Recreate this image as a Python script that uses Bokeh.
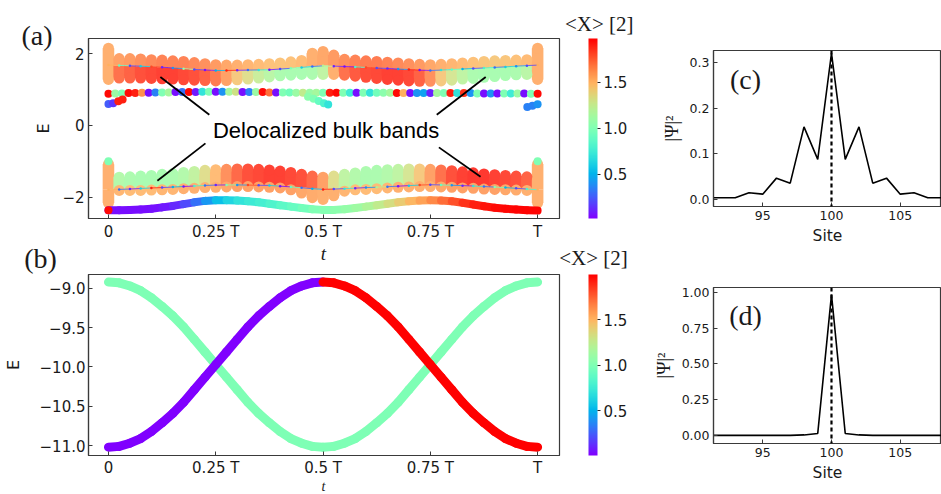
import numpy as np
from bokeh.plotting import figure
from bokeh.layouts import row, column
from bokeh.models import (ColumnDataSource, LinearColorMapper, ColorBar, FixedTicker,
                          Label, Span, Title)
from bokeh.transform import transform
from bokeh.embed import file_html
from bokeh.resources import INLINE

# ---------------------------------------------------------------- data ----
# panel (a): spectrum over one pump cycle, sampled every T/40
T_BAND = np.linspace(0.0, 1.0, 41)

UB_TOP = [2.15, 1.86, 1.86, 1.85, 1.83, 1.82, 1.80, 1.78, 1.75, 1.72,
          1.69, 1.68, 1.68, 1.69, 1.70, 1.72, 1.74, 1.77, 1.81, 2.01,
          2.06, 1.96, 1.84, 1.82, 1.80, 1.78, 1.76, 1.74, 1.72, 1.70,
          1.69, 1.70, 1.72, 1.74, 1.76, 1.78, 1.80, 1.81, 1.82, 1.83, 2.15]
UB_MID = [1.68, 1.67, 1.66, 1.65, 1.635, 1.62, 1.60, 1.58, 1.56, 1.545,
          1.53, 1.53, 1.535, 1.54, 1.545, 1.55, 1.57, 1.59, 1.615, 1.64,
          1.66, 1.65, 1.64, 1.63, 1.615, 1.60, 1.585, 1.57, 1.555, 1.54,
          1.53, 1.54, 1.555, 1.57, 1.585, 1.60, 1.615, 1.63, 1.65, 1.665, 1.68]
UB_BOT = [1.28, 1.32, 1.32, 1.32, 1.31, 1.30, 1.29, 1.27, 1.26, 1.25,
          1.24, 1.25, 1.27, 1.29, 1.32, 1.35, 1.38, 1.40, 1.42, 1.42,
          1.42, 1.42, 1.40, 1.37, 1.34, 1.31, 1.28, 1.26, 1.24, 1.23,
          1.23, 1.24, 1.26, 1.29, 1.31, 1.34, 1.36, 1.39, 1.41, 1.42, 1.28]
UB_X_HI = [1.55, 1.6, 1.62, 1.65, 1.68, 1.7, 1.7, 1.7, 1.68, 1.65,
           1.62, 1.58, 1.55, 1.52, 1.5, 1.48, 1.47, 1.48, 1.5, 1.55,
           1.58, 1.62, 1.66, 1.7, 1.72, 1.72, 1.7, 1.68, 1.65, 1.62,
           1.58, 1.55, 1.52, 1.5, 1.48, 1.46, 1.45, 1.46, 1.48, 1.5, 1.55]
UB_X_LO = [1.55, 1.75, 1.8, 1.85, 1.88, 1.9, 1.9, 1.88, 1.85, 1.8,
           1.72, 1.6, 1.45, 1.35, 1.25, 1.18, 1.12, 1.1, 1.1, 1.12,
           1.2, 1.55, 1.75, 1.82, 1.86, 1.88, 1.9, 1.9, 1.88, 1.8,
           1.65, 1.45, 1.3, 1.2, 1.12, 1.1, 1.1, 1.1, 1.12, 1.18, 1.55]
UB_X_LINE = [1.5, 0.9, 0.2, 0.6, 1.8, 0.1, 0.4, 1.1, 0.2, 0.05,
             0.5, 1.9, 0.1, 0.3, 0.7, 0.05, 0.2, 1.0, 0.6, 0.3,
             1.2, 0.1, 0.05, 0.8, 1.8, 0.2, 0.1, 0.4, 1.9, 0.05,
             0.3, 0.7, 0.9, 0.5, 0.2, 0.8, 0.3, 0.6, 0.4, 0.2, 1.5]

LB_TOP = [-1.08, -1.44, -1.43, -1.41, -1.39, -1.36, -1.34, -1.31, -1.28, -1.25,
          -1.23, -1.22, -1.21, -1.21, -1.22, -1.24, -1.27, -1.31, -1.36, -1.41,
          -1.44, -1.41, -1.36, -1.32, -1.28, -1.25, -1.23, -1.22, -1.21, -1.21,
          -1.22, -1.24, -1.26, -1.29, -1.32, -1.35, -1.37, -1.39, -1.41, -1.43, -1.08]
LB_MID = [-1.79, -1.78, -1.77, -1.755, -1.74, -1.73, -1.715, -1.70, -1.685, -1.67,
          -1.66, -1.655, -1.655, -1.66, -1.665, -1.67, -1.69, -1.71, -1.735, -1.76,
          -1.78, -1.77, -1.76, -1.745, -1.73, -1.72, -1.705, -1.69, -1.675, -1.66,
          -1.65, -1.655, -1.665, -1.675, -1.685, -1.70, -1.715, -1.73, -1.75, -1.77, -1.79]
LB_BOT = [-2.16, -1.81, -1.81, -1.81, -1.80, -1.79, -1.78, -1.76, -1.75, -1.73,
          -1.72, -1.71, -1.70, -1.70, -1.71, -1.72, -1.74, -1.79, -1.88, -2.01,
          -2.06, -1.96, -1.83, -1.79, -1.78, -1.76, -1.74, -1.72, -1.71, -1.70,
          -1.70, -1.71, -1.72, -1.74, -1.75, -1.77, -1.78, -1.79, -1.80, -1.81, -2.16]
LB_X_HI = [1.55, 1.15, 1.12, 1.1, 1.1, 1.1, 1.12, 1.15, 1.22, 1.35,
           1.5, 1.65, 1.78, 1.85, 1.88, 1.9, 1.9, 1.88, 1.85, 1.78,
           1.6, 1.35, 1.2, 1.15, 1.12, 1.12, 1.15, 1.2, 1.3, 1.45,
           1.6, 1.75, 1.85, 1.9, 1.92, 1.92, 1.9, 1.88, 1.85, 1.8, 1.55]
LB_X_LO = [1.55, 1.52, 1.5, 1.5, 1.5, 1.52, 1.52, 1.55, 1.55, 1.55,
           1.55, 1.58, 1.6, 1.6, 1.6, 1.6, 1.6, 1.6, 1.58, 1.56,
           1.55, 1.55, 1.52, 1.5, 1.5, 1.5, 1.52, 1.55, 1.55, 1.55,
           1.55, 1.58, 1.6, 1.6, 1.6, 1.6, 1.6, 1.58, 1.56, 1.55, 1.55]
LB_X_LINE = [1.5, 0.3, 0.1, 0.6, 1.9, 0.2, 0.5, 0.05, 0.8, 0.3,
             0.1, 1.0, 0.4, 1.8, 0.2, 0.6, 0.05, 0.9, 0.3, 0.5,
             1.9, 0.2, 0.7, 0.1, 0.4, 1.2, 0.3, 0.05, 0.6, 1.8,
             0.2, 0.9, 0.4, 0.1, 0.7, 0.3, 1.0, 0.5, 0.2, 0.8, 1.5]

# lowest state of the lower band
EDGE_E = [-2.36, -2.36, -2.35, -2.34, -2.32, -2.28, -2.24, -2.19, -2.14, -2.10,
          -2.08, -2.08, -2.09, -2.11, -2.14, -2.18, -2.22, -2.26, -2.30, -2.33,
          -2.35, -2.35, -2.33, -2.30, -2.26, -2.22, -2.18, -2.14, -2.11, -2.09,
          -2.08, -2.09, -2.11, -2.15, -2.20, -2.25, -2.29, -2.32, -2.34, -2.36, -2.37]
EDGE_X = [0.05, 0.05, 0.05, 0.05, 0.05, 0.06, 0.08, 0.12, 0.2, 0.3,
          0.42, 0.55, 0.63, 0.7, 0.74, 0.78, 0.82, 0.86, 0.9, 0.95,
          1.0, 1.02, 1.05, 1.08, 1.12, 1.18, 1.25, 1.32, 1.4, 1.48,
          1.55, 1.62, 1.7, 1.78, 1.85, 1.9, 1.93, 1.95, 1.96, 1.97, 1.97]

# row of in-gap states, sampled every T/64
T_GAP = np.linspace(0.0, 1.0, 65)
GAP_E = [0.88, 0.89, 0.89, 0.90, 0.90, 0.91, 0.91, 0.92, 0.92, 0.92,
         0.93, 0.93, 0.93, 0.93, 0.94, 0.94, 0.94, 0.94, 0.94, 0.94,
         0.93, 0.93, 0.93, 0.93, 0.92, 0.92, 0.92, 0.92, 0.91, 0.91,
         0.91, 0.91, 0.91, 0.91, 0.91, 0.91, 0.91, 0.91, 0.91, 0.91,
         0.91, 0.91, 0.91, 0.90, 0.90, 0.90, 0.90, 0.90, 0.90, 0.90,
         0.90, 0.90, 0.90, 0.90, 0.90, 0.89, 0.89, 0.89, 0.89, 0.89,
         0.89, 0.89, 0.89, 0.88, 0.88]
GAP_X = [1.95, 1.1, 1.0, 1.95, 1.9, 1.6, 0.05, 0.35, 1.0, 1.15,
         0.05, 0.3, 1.95, 0.08, 0.7, 1.0, 0.05, 0.4, 1.15, 1.3,
         0.05, 0.35, 1.1, 1.95, 1.7, 0.05, 1.0, 0.95, 1.1, 1.25,
         1.1, 1.15, 1.0, 1.9, 1.95, 1.0, 0.75, 0.05, 1.0, 0.7,
         0.95, 1.05, 1.15, 1.95, 1.5, 0.05, 0.4, 0.45, 0.1, 1.15,
         1.0, 1.9, 0.7, 1.85, 0.4, 1.0, 0.05, 0.4, 0.05, 1.0,
         0.75, 1.1, 0.05, 1.0, 1.95]

# isolated states near t = 0, T/2 and T
ISO_T = [0.0, 0.011, 0.023, 0.033, 0.465, 0.478, 0.49, 0.502, 0.512,
         0.976, 0.988, 1.0, 0.0, 0.0, 1.0]
ISO_E = [0.60, 0.62, 0.67, 0.72, 0.80, 0.74, 0.68, 0.62, 0.58,
         0.51, 0.55, 0.59, -2.36, -1.0, -1.0]
ISO_X = [0.25, 0.15, 1.9, 1.9, 1.05, 1.0, 0.9, 0.8, 0.7,
         0.35, 0.35, 0.4, 1.95, 1.0, 1.0]

# panel (b): the two states of the deep pair, sampled every T/40
T_PAIR = np.linspace(0.0, 1.0, 41)
PAIR1_E = [-8.92, -8.93, -8.97, -9.03, -9.12, -9.23, -9.35, -9.49, -9.65, -9.81,
           -9.97, -10.13, -10.29, -10.45, -10.59, -10.71, -10.82, -10.91, -10.97, -11.01,
           -11.02, -11.01, -10.97, -10.91, -10.82, -10.71, -10.59, -10.45, -10.29, -10.13,
           -9.97, -9.81, -9.65, -9.49, -9.35, -9.23, -9.12, -9.03, -8.97, -8.93, -8.92]
PAIR1_X = [1.0] * 41
PAIR2_E = [-11.02, -11.01, -10.97, -10.91, -10.82, -10.71, -10.59, -10.45, -10.29, -10.13,
           -9.97, -9.81, -9.65, -9.49, -9.35, -9.23, -9.12, -9.03, -8.97, -8.93,
           -8.92, -8.93, -8.97, -9.03, -9.12, -9.23, -9.35, -9.49, -9.65, -9.81,
           -9.97, -10.13, -10.29, -10.45, -10.59, -10.71, -10.82, -10.91, -10.97, -11.01, -11.02]
PAIR2_X = [0.01] * 20 + [2.0] * 21

# panels (c), (d): site-resolved probability
SITES = list(range(91, 110))
PROB_C = [0.004, 0.004, 0.004, 0.015, 0.012, 0.047, 0.036, 0.159, 0.088, 0.32,
          0.088, 0.159, 0.036, 0.047, 0.012, 0.015, 0.004, 0.004, 0.004]
PROB_D = [0.001, 0.001, 0.001, 0.001, 0.001, 0.001, 0.001, 0.004, 0.014, 0.985,
          0.014, 0.004, 0.001, 0.001, 0.001, 0.001, 0.001, 0.001, 0.001]

T_TICKS = [0, 0.25, 0.5, 0.75, 1.0]
T_LABELS = ["0", "0.25 T", "0.5 T", "0.75 T", "T"]
CB_TICKS = [0.5, 1.0, 1.5]
CB_LABELS = ["0.5", "1.0", "1.5"]

# ----------------------------------------------------------- styling ----
def rainbow(n=256, wash=0.0):
    cols = []
    for i in range(n):
        x = i / (n - 1)
        rgb = [min(1.0, abs(2 * x - 0.5)), max(0.0, np.sin(np.pi * x)),
               max(0.0, np.cos(np.pi * x / 2))]
        rgb = [c + (1.0 - c) * wash for c in rgb]
        cols.append("#%02x%02x%02x" % tuple(round(255 * c) for c in rgb))
    return cols


RAINBOW = rainbow()
cmap_a = LinearColorMapper(palette=RAINBOW, low=0.015, high=1.98)
cmap_band = LinearColorMapper(palette=rainbow(wash=0.15), low=0.015, high=1.98)
cmap_b = LinearColorMapper(palette=RAINBOW, low=0.01, high=2.0)

FRAME = "#3a3a3a"
INK = "#1a1a1a"
SANS = "DejaVu Sans"
SERIF = "Liberation Serif"
TAG_SIZE = "28px"


def make_fig(w, h, xr, yr, left, right, top, bottom):
    p = figure(width=w, height=h, x_range=xr, y_range=yr, output_backend="svg",
               toolbar_location=None, min_border_left=left, min_border_right=right,
               min_border_top=top, min_border_bottom=bottom)
    p.grid.visible = False
    p.outline_line_color = FRAME
    p.outline_line_width = 1.2
    p.background_fill_color = "white"
    p.border_fill_color = "white"
    return p


def text_strip(w, h):
    # axis-free strip that carries the captions between the stacked panels
    p = figure(width=w, height=h, x_range=(0, 1), y_range=(0, 1), output_backend="svg",
               toolbar_location=None, min_border_left=0, min_border_right=0,
               min_border_top=0, min_border_bottom=0, x_axis_location=None,
               y_axis_location=None)
    p.grid.visible = False
    p.outline_line_color = None
    p.border_fill_color = "white"
    p.background_fill_color = "white"
    return p


def style_axes(p, size, standoff=4):
    for ax in p.axis:
        ax.axis_line_color = FRAME
        ax.axis_line_width = 1.2
        ax.major_tick_in = 4
        ax.major_tick_out = 0
        ax.major_tick_line_color = FRAME
        ax.minor_tick_line_color = None
        ax.major_label_text_font = SANS
        ax.major_label_text_font_size = size
        ax.major_label_text_color = INK
        ax.major_label_standoff = standoff
        ax.axis_label_text_font_style = "normal"
        ax.axis_label_text_color = INK


def add_text(p, x, y, text, font, size, style="normal"):
    # x, y in pixels from the top-left of this figure's canvas
    fx = x - p.min_border_left
    fy = (p.height - p.min_border_bottom) - y
    p.add_layout(Label(x=fx, y=fy, x_units="screen", y_units="screen", text=text,
                       text_font=font, text_font_size=size, text_font_style=style,
                       text_align="center", text_baseline="middle", text_color=INK))


def path(p, t, e, xv, mapper, width, by_left=True):
    t, e, xv = list(t), list(e), list(xv)
    src = ColumnDataSource(dict(x0=t[:-1], y0=e[:-1], x1=t[1:], y1=e[1:],
                                v=xv[:-1] if by_left else xv[1:]))
    p.segment("x0", "y0", "x1", "y1", source=src, line_color=transform("v", mapper),
              line_width=width, line_cap="round")


def band(p, top, mid, bot, x_hi, x_lo, x_line):
    src = ColumnDataSource(dict(t=T_BAND, top=top, mid=mid, bot=bot,
                                x_hi=x_hi, x_lo=x_lo, x_line=x_line))
    p.vbar(x="t", width=0.027, bottom="mid", top="top", source=src,
           fill_color=transform("x_hi", cmap_band), line_color=None)
    p.vbar(x="t", width=0.027, bottom="bot", top="mid", source=src,
           fill_color=transform("x_lo", cmap_band), line_color=None)
    p.scatter(x="t", y="top", size=11, source=src,
              fill_color=transform("x_hi", cmap_band), line_color=None)
    p.scatter(x="t", y="bot", size=11, source=src,
              fill_color=transform("x_lo", cmap_band), line_color=None)
    path(p, T_BAND, mid, x_line, cmap_a, 0.8)
    p.scatter(x="t", y="mid", size=2.5, source=src,
              fill_color=transform("x_line", cmap_a), line_color=None)


def colorbar(p, mapper):
    cb = ColorBar(color_mapper=mapper, ticker=FixedTicker(ticks=CB_TICKS),
                  major_label_overrides=dict(zip(CB_TICKS, CB_LABELS)),
                  width=9, location=(29, 0), padding=0, margin=0,
                  major_tick_in=0, major_tick_out=3, major_tick_line_color="#222222",
                  major_label_text_font=SANS, major_label_text_font_size="15px",
                  major_label_text_color=INK, label_standoff=3,
                  bar_line_color=None, border_line_color=None,
                  background_fill_color=None)
    p.add_layout(cb, "right")


# ------------------------------------------------------------ panel (a) ----
pa = make_fig(650, 243, (-0.0465, 1.051), (-2.59, 2.42), 87, 91, 38, 23)
band(pa, UB_TOP, UB_MID, UB_BOT, UB_X_HI, UB_X_LO, UB_X_LINE)
band(pa, LB_TOP, LB_MID, LB_BOT, LB_X_HI, LB_X_LO, LB_X_LINE)
path(pa, T_BAND, EDGE_E, EDGE_X, cmap_a, 8, by_left=False)
gap = ColumnDataSource(dict(t=T_GAP, e=GAP_E, v=GAP_X))
pa.scatter(x="t", y="e", size=8, source=gap, fill_color=transform("v", cmap_a), line_color=None)
iso = ColumnDataSource(dict(t=ISO_T, e=ISO_E, v=ISO_X))
pa.scatter(x="t", y="e", size=8, source=iso, fill_color=transform("v", cmap_a), line_color=None)

# pointers to the bulk bands
pa.segment(x0=[0.235, 0.226, 0.765, 0.770], y0=[0.30, -0.50, 0.30, -0.61],
           x1=[0.121, 0.114, 0.879, 0.867], y1=[1.35, -1.54, 1.35, -1.43],
           line_color="black", line_width=1.8)
pa.add_layout(Label(x=0.507, y=-0.15, text="Delocalized bulk bands",
                    text_font="Liberation Sans", text_font_size="22px",
                    text_align="center", text_baseline="middle", text_color="black"))

pa.xaxis.ticker = FixedTicker(ticks=T_TICKS)
pa.xaxis.major_label_overrides = dict(zip(T_TICKS, T_LABELS))
pa.yaxis.ticker = FixedTicker(ticks=[-2, 0, 2])
pa.yaxis.major_label_overrides = {-2: "\u22122", 0: "0", 2: "2"}
style_axes(pa, "15px")
pa.yaxis.axis_label = "E"
pa.yaxis.axis_label_text_font = SANS
pa.yaxis.axis_label_text_font_size = "16px"
pa.yaxis.axis_label_standoff = 6
colorbar(pa, cmap_a)

# panel tag and colour-bar caption above the frame
pa.add_layout(Title(text="(a)", align="left", offset=-67, standoff=-24,
                    vertical_align="bottom", text_font=SERIF, text_font_size=TAG_SIZE,
                    text_font_style="normal", text_color=INK), "above")
pa.add_layout(Title(text="<X> [2]", align="right", offset=-74, standoff=-12,
                    vertical_align="bottom", text_font=SERIF, text_font_size="21px",
                    text_font_style="normal", text_color=INK), "above")

# caption strip between (a) and (b)
mid_strip = text_strip(650, 31)
add_text(mid_strip, 323, 10, "t", SERIF, "19px", style="italic")
add_text(mid_strip, 40, 15, "(b)", SERIF, TAG_SIZE)
add_text(mid_strip, 593, 14, "<X> [2]", SERIF, "21px")

# ------------------------------------------------------------ panel (b) ----
pb = make_fig(650, 205, (-0.0465, 1.051), (-11.126, -8.824), 87, 91, 0, 21)
path(pb, T_PAIR, PAIR1_E, PAIR1_X, cmap_b, 9)
path(pb, T_PAIR, PAIR2_E, PAIR2_X, cmap_b, 9)
pb.xaxis.ticker = FixedTicker(ticks=T_TICKS)
pb.xaxis.major_label_overrides = dict(zip(T_TICKS, T_LABELS))
E_TICKS = [-11.0, -10.5, -10.0, -9.5, -9.0]
pb.yaxis.ticker = FixedTicker(ticks=E_TICKS)
pb.yaxis.major_label_overrides = {v: ("%.1f" % v).replace("-", "\u2212") for v in E_TICKS}
style_axes(pb, "15px", standoff=3)
pb.yaxis.axis_label = "E"
pb.yaxis.axis_label_text_font = SANS
pb.yaxis.axis_label_text_font_size = "16px"
pb.yaxis.axis_label_standoff = 14
colorbar(pb, cmap_b)

low_strip = text_strip(650, 15)
add_text(low_strip, 323, 7, "t", SERIF, "14px", style="italic")

# ------------------------------------------------------- panels (c), (d) ----
def site_panel(h, yr, top, bottom, probs, yticks, ylabels, tag, tag_y):
    p = make_fig(291, h, (91.42, 108.0), yr, 63, 0, top, bottom)
    p.line(SITES, probs, line_color="black", line_width=1.6)
    p.add_layout(Span(location=100, dimension="height", line_color="black",
                      line_width=2.2, line_dash="4 3"))
    p.xaxis.ticker = FixedTicker(ticks=[95, 100, 105])
    p.yaxis.ticker = FixedTicker(ticks=yticks)
    p.yaxis.major_label_overrides = dict(zip(yticks, ylabels))
    style_axes(p, "12.5px", standoff=4)
    p.xaxis.axis_label = "Site"
    p.xaxis.axis_label_text_font = SANS
    p.xaxis.axis_label_text_font_size = "15.5px"
    p.xaxis.axis_label_standoff = 4
    p.yaxis.axis_label = "|\u03a8|\u00b2"
    p.yaxis.axis_label_text_font = SERIF
    p.yaxis.axis_label_text_font_size = "18px"
    p.yaxis.axis_label_standoff = 5
    add_text(p, 95, tag_y, tag, SERIF, TAG_SIZE)
    return p


pc = site_panel(272, (-0.015, 0.326), 50, 66, PROB_C,
                [0.0, 0.1, 0.2, 0.3], ["0.0", "0.1", "0.2", "0.3"], "(c)", 79)
pd = site_panel(222, (-0.056, 1.035), 15, 51, PROB_D,
                [0.0, 0.25, 0.5, 0.75, 1.0], ["0.00", "0.25", "0.50", "0.75", "1.00"],
                "(d)", 43)

# the caption strips sit in their own rows so their frames span the full width
layout = row(column(pa, row(mid_strip), pb, row(low_strip)), column(pc, pd))
open("out.html", "w").write(file_html(layout, INLINE))
